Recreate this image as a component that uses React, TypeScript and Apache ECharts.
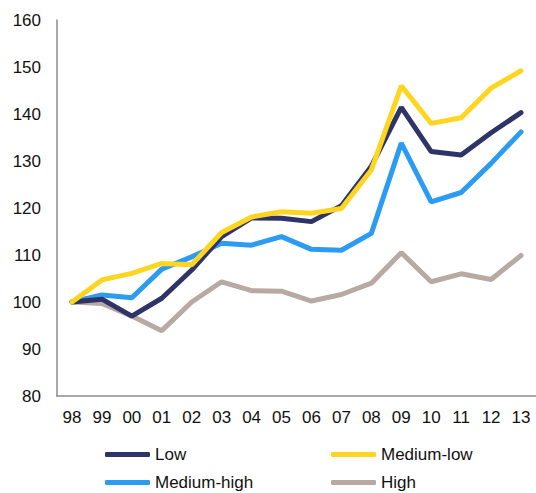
import React, { useEffect, useRef } from "react";
import * as echarts from "echarts";

const years = ["98", "99", "00", "01", "02", "03", "04", "05", "06", "07", "08", "09", "10", "11", "12", "13"];
const low = [100, 100.6, 97, 100.8, 106.8, 113.9, 117.9, 117.8, 117.1, 120.5, 128.9, 141.4, 132.0, 131.3, 136, 140.3];
const mediumLow = [100, 104.7, 106.1, 108.2, 107.9, 114.8, 118.1, 119.2, 118.9, 119.9, 128.1, 146.0, 138.0, 139.2, 145.5, 149.2];
const mediumHigh = [100, 101.5, 100.9, 107.0, 109.6, 112.5, 112.1, 113.9, 111.2, 111.0, 114.6, 133.8, 121.3, 123.3, 129.5, 136.2];
const high = [100, 99.7, 97, 93.9, 100, 104.3, 102.4, 102.3, 100.2, 101.6, 104.0, 110.5, 104.3, 106.0, 104.8, 109.9];
const yTicks = { min: 80, max: 160, interval: 10 };

const names = ["Low", "Medium-low", "Medium-high", "High"];
const colors = ["#2E3468", "#FFD520", "#2B9CF2", "#B8AAA2"];
const seriesData = [low, mediumLow, mediumHigh, high];

export default function App() {
  const ref = useRef<HTMLDivElement>(null);
  useEffect(() => {
    if (!ref.current) return;
    const chart = echarts.init(ref.current, null, { renderer: "svg" });
    const font = "'Liberation Sans', Arial, sans-serif";
    const legendPos = [
      { left: 105, top: 446 },
      { left: 331, top: 446 },
      { left: 105, top: 474 },
      { left: 331, top: 474 },
    ];
    chart.setOption({
      animation: false,
      textStyle: { fontFamily: font },
      grid: { left: 57, top: 20, width: 480, height: 376, containLabel: false },
      legend: names.map((n, i) => ({
        data: [n],
        left: legendPos[i].left,
        top: legendPos[i].top,
        padding: 0,
        icon: "roundRect",
        itemWidth: 45,
        itemHeight: 5,
        textStyle: { fontSize: 17, color: "#111", fontFamily: font },
      })),
      xAxis: {
        type: "category",
        data: years,
        boundaryGap: true,
        axisLine: { lineStyle: { color: "#8c8c8c", width: 1.5 } },
        axisTick: { show: false },
        axisLabel: { fontSize: 17, color: "#111", margin: 13, fontFamily: font, interval: 0 },
      },
      yAxis: {
        type: "value",
        min: yTicks.min,
        max: yTicks.max,
        interval: yTicks.interval,
        axisLine: { show: true, lineStyle: { color: "#8c8c8c", width: 1.5 } },
        axisTick: { show: false },
        splitLine: { show: false },
        axisLabel: { fontSize: 17, color: "#111", margin: 16, fontFamily: font },
      },
      series: names.map((n, i) => ({
        name: n,
        type: "line",
        data: seriesData[i],
        symbol: "none",
        color: colors[i],
        lineStyle: { width: 5, color: colors[i], cap: "round" },
        z: i === 0 ? 3 : i === 1 ? 4 : 2,
      })),
    });
    return () => chart.dispose();
  }, []);
  return <div ref={ref} style={{ width: 536, height: 493, position: "absolute", left: 0, top: 0 }} />;
}
